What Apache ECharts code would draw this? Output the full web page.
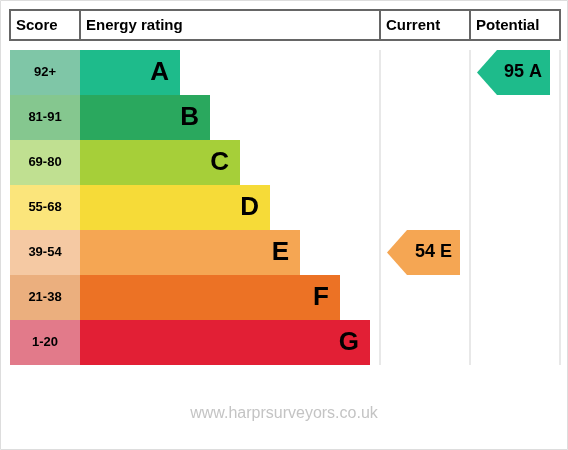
<!DOCTYPE html>
<html>
<head>
<meta charset="utf-8">
<script src="https://cdn.jsdelivr.net/npm/echarts@6/dist/echarts.min.js"></script>
<style>
  html, body { margin: 0; padding: 0; background: #fff; }
  #chart { width: 568px; height: 450px; }
</style>
</head>
<body>
<div id="chart"></div>
<script>
// bands, top to bottom
const bands = ['A', 'B', 'C', 'D', 'E', 'F', 'G']
const scoreRanges = ['92+', '81-91', '69-80', '55-68', '39-54', '21-38', '1-20']
// length of each rating bar (axis units, score column not included)
const barLengths = [100, 130, 160, 190, 220, 260, 290]
const bandColors = ['#1ebb8b', '#2aa85e', '#a6cf39', '#f6db38', '#f5a653', '#ec7225', '#e21f35']
const scoreColors = ['#7fc6a7', '#85c78f', '#c0e091', '#fbe57b', '#f5c9a3', '#ebaf7e', '#e27a8a']
const headers = ['Score', 'Energy rating', 'Current', 'Potential']
// current, potential
const arrowScores = [54, 95]
const arrowBands = ['E', 'A']

const FONT = '"Liberation Sans", Arial, sans-serif'
const scoreWidth = 70
// column bounds on the x axis for Current / Potential
const columns = [[370, 460], [460, 550]]

var myChart = echarts.init(document.getElementById('chart'))

function arrowItem (params, api) {
    const col = columns[api.value(0)]
    const row = api.value(1)
    const tip = api.coord([col[0] + 7, row])
    const end = api.coord([col[1] - 10, row])
    const h = api.size([0, 1])[1]
    const y0 = tip[1] - h / 2
    const y1 = tip[1] + h / 2
    const i = params.dataIndex
    return {
        type: 'group',
        children: [
            {
                type: 'polygon',
                shape: { points: [[tip[0], tip[1]], [tip[0] + 20, y0], [end[0], y0], [end[0], y1], [tip[0] + 20, y1]] },
                style: { fill: bandColors[bands.indexOf(arrowBands[i])] }
            },
            {
                type: 'text',
                style: {
                    text: arrowScores[i] + ' ' + arrowBands[i],
                    x: end[0] - 8,
                    y: tip[1],
                    align: 'right',
                    verticalAlign: 'middle',
                    fill: '#000',
                    font: 'bold 18px ' + FONT
                }
            }
        ]
    }
}

const graphics = [
    { type: 'rect', shape: { x: 0.5, y: 0.5, width: 567, height: 449 }, style: { fill: 'none', stroke: '#dddddd', lineWidth: 1 } },
    { type: 'rect', shape: { x: 10, y: 10, width: 550, height: 30 }, style: { fill: 'none', stroke: '#666', lineWidth: 2 } }
]
;[80, 380, 470].forEach(x => {
    graphics.push({ type: 'line', shape: { x1: x, y1: 10, x2: x, y2: 40 }, style: { stroke: '#666', lineWidth: 2 } })
})
;[380, 470, 560].forEach(x => {
    graphics.push({ type: 'line', z: -1, shape: { x1: x, y1: 50, x2: x, y2: 365 }, style: { stroke: '#e8e8e8', lineWidth: 2 } })
})
const headerX = [16, 86, 386, 476]
headers.forEach((h, i) => {
    graphics.push({
        type: 'text',
        style: { text: h, x: headerX[i], y: 25.5, verticalAlign: 'middle', fill: '#000', font: 'bold 15px ' + FONT }
    })
})
graphics.push({
    type: 'text',
    style: { text: 'www.harprsurveyors.co.uk', x: 284, y: 414, align: 'center', verticalAlign: 'middle', fill: '#c4c4c4', font: '16px ' + FONT }
})

var option = {
    animation: false,
    grid: { left: 10, top: 50, width: 550, height: 315 },
    xAxis: { type: 'value', min: 0, max: 550, show: false },
    yAxis: { type: 'category', data: bands, inverse: true, show: false },
    graphic: graphics,
    series: [
        {
            name: 'score',
            type: 'bar',
            stack: 'r',
            silent: true,
            barCategoryGap: '0%',
            data: scoreRanges.map((s, i) => ({ value: scoreWidth, itemStyle: { color: scoreColors[i] } })),
            label: {
                show: true,
                position: 'inside',
                formatter: p => scoreRanges[p.dataIndex],
                color: '#000',
                fontWeight: 'bold',
                fontSize: 13,
                fontFamily: FONT
            }
        },
        {
            name: 'rating',
            type: 'bar',
            stack: 'r',
            silent: true,
            barCategoryGap: '0%',
            data: barLengths.map((v, i) => ({ value: v, itemStyle: { color: bandColors[i] } })),
            label: {
                show: true,
                position: 'insideRight',
                distance: 11,
                formatter: p => bands[p.dataIndex],
                color: '#000',
                fontWeight: 'bold',
                fontSize: 26,
                fontFamily: FONT
            }
        },
        {
            name: 'arrows',
            type: 'custom',
            silent: true,
            renderItem: arrowItem,
            data: arrowBands.map((b, i) => [i, bands.indexOf(b)])
        }
    ]
}
myChart.setOption(option)
</script>
</body>
</html>
